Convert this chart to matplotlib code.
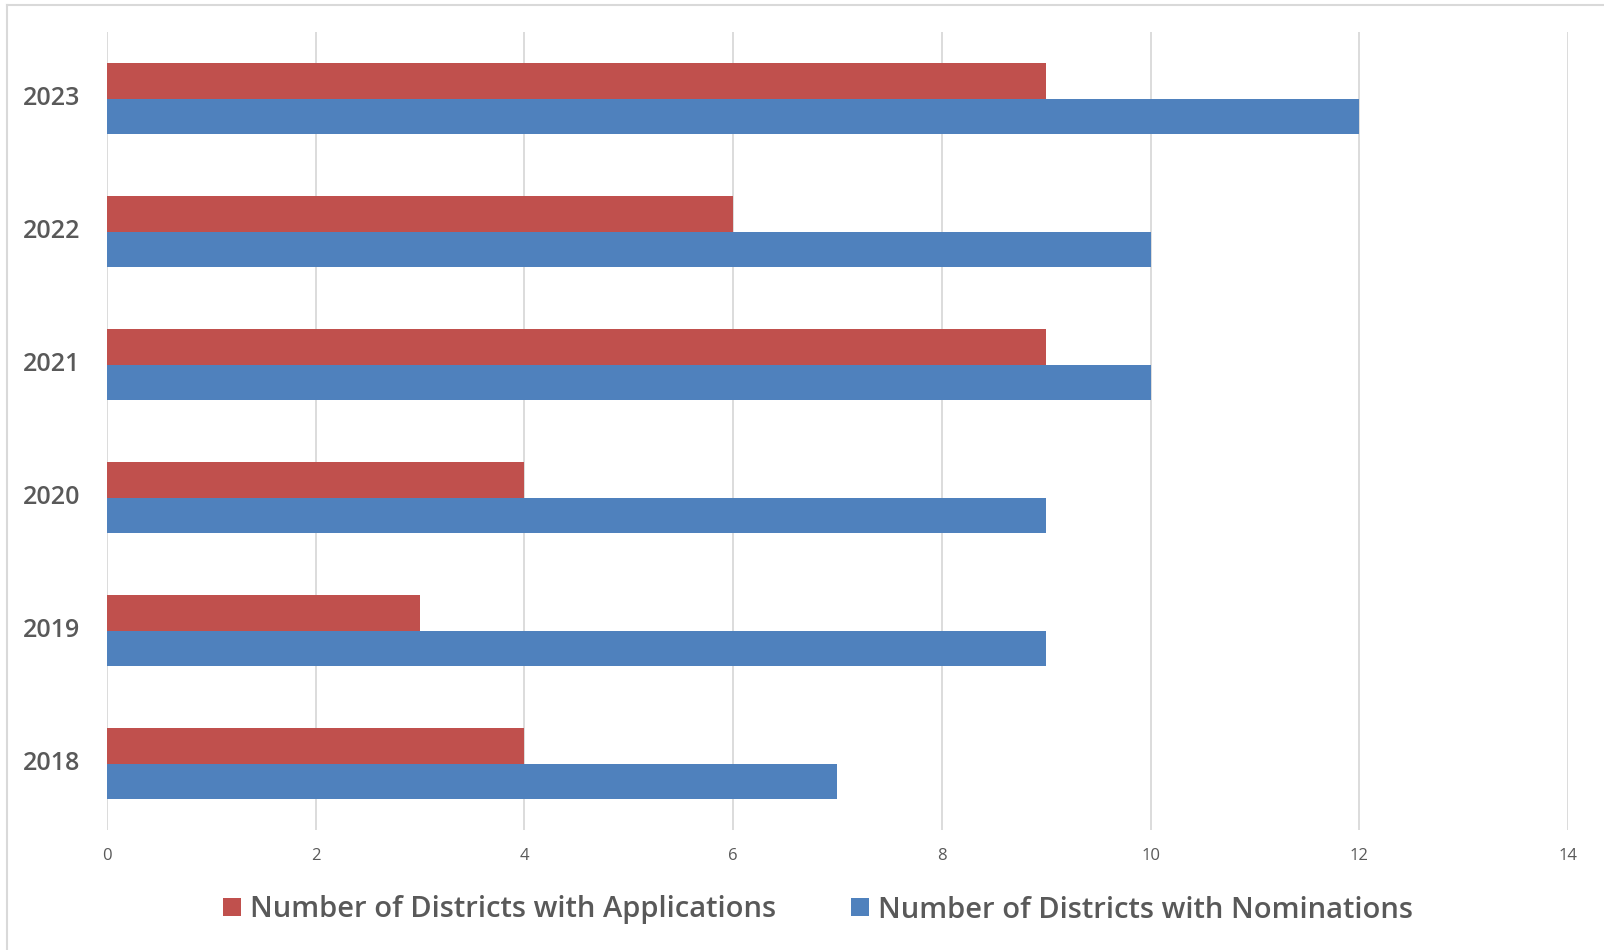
import matplotlib
matplotlib.use("Agg")
import matplotlib.pyplot as plt
from matplotlib.patches import Patch
from matplotlib.lines import Line2D
import numpy as np

years = ["2018", "2019", "2020", "2021", "2022", "2023"]
applications = [4, 3, 4, 9, 6, 9]
nominations = [7, 9, 9, 10, 10, 12]
series_names = ["Number of Districts with Applications", "Number of Districts with Nominations"]
x_ticks = [0, 2, 4, 6, 8, 10, 12, 14]

RED = "#C0504D"
BLUE = "#4F81BD"
TXT = "#595959"
GRID = "#D9D9D9"

plt.rcParams['font.family'] = ['Open Sans', 'DejaVu Sans']

W, H = 1604, 950
fig = plt.figure(figsize=(W / 100, H / 100), dpi=100)
ax = fig.add_axes([107 / W, 1 - 830 / H, (1568 - 107) / W, (830 - 32) / H])

y = np.arange(len(years))
bh = 0.265
ax.barh(y + bh / 2, applications, height=bh, color=RED, label=series_names[0], zorder=3)
ax.barh(y - bh / 2, nominations, height=bh, color=BLUE, label=series_names[1], zorder=3)

ax.set_xlim(0, 14)
ax.set_ylim(-0.5, len(years) - 0.5)
ax.set_xticks(x_ticks)
ax.set_xticklabels([str(t) for t in x_ticks], fontsize=12, color=TXT)
ax.set_yticks(y)
ax.set_yticklabels(years, fontsize=18, color=TXT, fontweight='semibold', va='center')
for lbl in ax.get_yticklabels():
    lbl.set_y(lbl.get_position()[1])
ax.tick_params(axis='both', length=0)
ax.tick_params(axis='x', pad=13)
ax.tick_params(axis='y', pad=19)
ax.grid(axis='x', color=GRID, linewidth=1.3, zorder=0)
for s in ax.spines.values():
    s.set_visible(False)

handles = [Patch(facecolor=RED, edgecolor='none'), Patch(facecolor=BLUE, edgecolor='none')]
leg = fig.legend(handles, series_names, loc='center', bbox_to_anchor=(818 / W, 1 - 910 / H),
                 ncol=2, frameon=False, prop={'size': 21, 'weight': 'semibold'},
                 handlelength=0.6, handleheight=0.6,
                 handletextpad=0.3, columnspacing=2.6, labelcolor=TXT)

# outer chart border
fig.add_artist(Line2D([7 / W, 1], [1 - 5 / H, 1 - 5 / H], color="#D9D9D9", linewidth=1.5, transform=fig.transFigure))
fig.add_artist(Line2D([7 / W, 7 / W], [1 - 5 / H, 0], color="#D9D9D9", linewidth=1.5, transform=fig.transFigure))

fig.savefig("out.png", dpi=100, facecolor="white")
